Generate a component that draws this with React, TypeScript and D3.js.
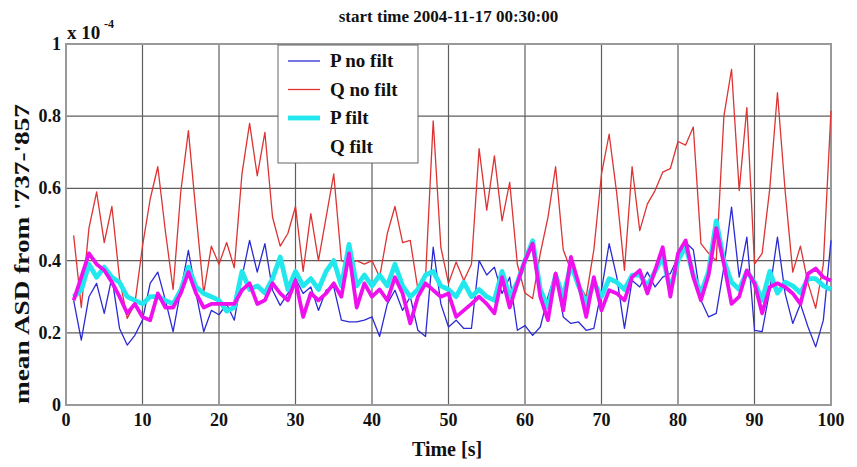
import React from "react";
import * as d3 from "d3";

const title = "start time 2004-11-17 00:30:00";
const xLabel = "Time [s]";
const yLabel = "mean ASD from '737-'857";
const xTicks = [0, 10, 20, 30, 40, 50, 60, 70, 80, 90, 100];
const yTicks = [0, 0.2, 0.4, 0.6, 0.8, 1];
const yTickLabels = ["0", "0.2", "0.4", "0.6", "0.8", "1"];
const seriesNames = ["P no filt", "Q no filt", "P filt", "Q filt"];

const time = d3.range(1, 101);

const pNoFilt = [
  0.29, 0.18, 0.30, 0.337, 0.254, 0.354, 0.212, 0.166, 0.193, 0.235,
  0.337, 0.368, 0.29, 0.203, 0.318, 0.428, 0.309, 0.203, 0.262, 0.25,
  0.28, 0.235, 0.354, 0.456, 0.368, 0.447, 0.318, 0.276, 0.309, 0.35,
  0.309, 0.327, 0.262, 0.318, 0.327, 0.235, 0.23, 0.23, 0.235, 0.244,
  0.19, 0.28, 0.318, 0.262, 0.30, 0.207, 0.19, 0.437, 0.28, 0.216,
  0.235, 0.212, 0.212, 0.40, 0.36, 0.382, 0.309, 0.354, 0.207, 0.22,
  0.193, 0.216, 0.30, 0.368, 0.244, 0.226, 0.23, 0.207, 0.212, 0.318,
  0.447, 0.354, 0.212, 0.345, 0.327, 0.368, 0.327, 0.354, 0.364, 0.41,
  0.45, 0.43, 0.29, 0.244, 0.254, 0.382, 0.548, 0.354, 0.465, 0.207,
  0.203, 0.318, 0.465, 0.309, 0.226, 0.28, 0.216, 0.161, 0.235, 0.456,
];

const qNoFilt = [
  0.47, 0.27, 0.49, 0.59, 0.45, 0.55, 0.35, 0.24, 0.28, 0.44,
  0.57, 0.66, 0.48, 0.32, 0.59, 0.76, 0.53, 0.31, 0.44, 0.39,
  0.45, 0.38, 0.64, 0.78, 0.635, 0.755, 0.52, 0.44, 0.475, 0.55,
  0.37, 0.53, 0.40, 0.52, 0.64, 0.40, 0.39, 0.40, 0.39, 0.40,
  0.354, 0.475, 0.55, 0.45, 0.456, 0.32, 0.354, 0.787, 0.437, 0.337,
  0.396, 0.345, 0.39, 0.71, 0.54, 0.69, 0.51, 0.617, 0.39, 0.31,
  0.295, 0.42, 0.52, 0.66, 0.43, 0.373, 0.337, 0.30, 0.43, 0.64,
  0.75, 0.585, 0.373, 0.66, 0.483, 0.557, 0.594, 0.645, 0.655, 0.73,
  0.72, 0.77, 0.447, 0.42, 0.40, 0.80, 0.93, 0.594, 0.824, 0.39,
  0.42, 0.60, 0.865, 0.594, 0.368, 0.44, 0.337, 0.268, 0.39, 0.815,
];

const pFilt = [
  0.30, 0.318, 0.39, 0.354, 0.382, 0.354, 0.34, 0.30, 0.29, 0.28,
  0.30, 0.30, 0.29, 0.28, 0.318, 0.382, 0.327, 0.309, 0.30, 0.29,
  0.26, 0.27, 0.37, 0.32, 0.33, 0.31, 0.35, 0.41, 0.32, 0.37,
  0.33, 0.35, 0.32, 0.37, 0.40, 0.33, 0.445, 0.33, 0.36, 0.33,
  0.36, 0.33, 0.39, 0.33, 0.30, 0.32, 0.36, 0.37, 0.33, 0.32,
  0.30, 0.34, 0.30, 0.32, 0.30, 0.29, 0.37, 0.30, 0.34, 0.40,
  0.455, 0.32, 0.27, 0.36, 0.30, 0.39, 0.33, 0.28, 0.34, 0.30,
  0.35, 0.34, 0.32, 0.36, 0.36, 0.33, 0.37, 0.41, 0.32, 0.40,
  0.44, 0.36, 0.31, 0.37, 0.51, 0.40, 0.34, 0.32, 0.37, 0.34,
  0.29, 0.37, 0.31, 0.34, 0.33, 0.31, 0.35, 0.35, 0.33, 0.32,
];

const qFilt = [
  0.29, 0.354, 0.42, 0.39, 0.373, 0.34, 0.30, 0.254, 0.28, 0.244,
  0.235, 0.309, 0.27, 0.27, 0.309, 0.368, 0.309, 0.27, 0.28, 0.28,
  0.28, 0.28, 0.318, 0.337, 0.28, 0.29, 0.337, 0.309, 0.29, 0.345,
  0.244, 0.31, 0.29, 0.309, 0.337, 0.30, 0.42, 0.27, 0.337, 0.30,
  0.32, 0.29, 0.354, 0.309, 0.226, 0.30, 0.337, 0.318, 0.30, 0.309,
  0.244, 0.262, 0.28, 0.30, 0.28, 0.254, 0.354, 0.27, 0.337, 0.40,
  0.447, 0.30, 0.235, 0.364, 0.262, 0.41, 0.337, 0.244, 0.354, 0.262,
  0.318, 0.309, 0.29, 0.354, 0.373, 0.309, 0.373, 0.437, 0.30, 0.42,
  0.456, 0.354, 0.29, 0.36, 0.49, 0.39, 0.28, 0.30, 0.373, 0.337,
  0.254, 0.327, 0.337, 0.327, 0.309, 0.28, 0.364, 0.378, 0.354, 0.345,
];

const W = 857;
const H = 467;
const L = 66, R = 831, T = 44, B = 405;
const FONT = "'Liberation Serif', 'Times New Roman', serif";

const series = [
  { name: seriesNames[0], values: pNoFilt, color: "#2b2bd6", width: 1.3, legendLine: true },
  { name: seriesNames[1], values: qNoFilt, color: "#dd3333", width: 1.3, legendLine: true },
  { name: seriesNames[2], values: pFilt, color: "#22e8ee", width: 4.8, legendLine: true },
  { name: seriesNames[3], values: qFilt, color: "#ee11ee", width: 3.8, legendLine: false },
];

export default function App() {
  const x = d3.scaleLinear().domain([0, 100]).range([L, R]);
  const y = d3.scaleLinear().domain([0, 1]).range([B, T]);
  const line = d3
    .line<number>()
    .x((_, i) => x(time[i]))
    .y((d) => y(d));

  return (
    <svg
      width={W}
      height={H}
      style={{ position: "absolute", left: 0, top: 0, background: "#fff" }}
      fontFamily={FONT}
      fontWeight="bold"
    >
      <rect x={0} y={0} width={W} height={H} fill="#fff" />
      <rect x={L} y={T} width={R - L} height={B - T} fill="#fff" />
      {xTicks.map((t) => (
        <line key={"gx" + t} x1={x(t)} x2={x(t)} y1={T} y2={B} stroke="#5e5e5e" strokeWidth={1.2} />
      ))}
      {yTicks.map((t) => (
        <line key={"gy" + t} x1={L} x2={R} y1={y(t)} y2={y(t)} stroke="#5e5e5e" strokeWidth={1.2} />
      ))}
      <rect x={L} y={T} width={R - L} height={B - T} fill="none" stroke="#999" strokeWidth={2} />
      {series.map((s) => (
        <path
          key={s.name}
          d={line(s.values) || ""}
          fill="none"
          stroke={s.color}
          strokeWidth={s.width}
          strokeLinejoin="round"
        />
      ))}
      {xTicks.map((t) => (
        <text key={"tx" + t} x={x(t)} y={426} fontSize={18} textAnchor="middle" fill="#111">
          {t}
        </text>
      ))}
      {yTicks.map((t, i) => (
        <text key={"ty" + t} x={61} y={y(t) + 6} fontSize={18} textAnchor="end" fill="#111">
          {yTickLabels[i]}
        </text>
      ))}
      <text x={67} y={39} fontSize={19} fill="#111">
        x 10
      </text>
      <text x={104} y={28} fontSize={12} fill="#111">
        -4
      </text>
      <text x={(L + R) / 2} y={22} fontSize={17} textAnchor="middle" fill="#111">
        {title}
      </text>
      <text x={447} y={456} fontSize={20} textAnchor="middle" fill="#111">
        {xLabel}
      </text>
      <text
        transform={`translate(29, 254) rotate(-90)`}
        fontSize={21}
        textAnchor="middle"
        textLength={300}
        lengthAdjust="spacingAndGlyphs"
        fill="#111"
      >
        {yLabel}
      </text>
      <g>
        <rect x={278} y={45} width={140} height={118} fill="#fff" stroke="#666" strokeWidth={1} />
        {series.map((s, i) => {
          const ly = 61 + i * 28.5;
          return (
            <g key={"lg" + s.name}>
              {s.legendLine && (
                <line x1={288} x2={320} y1={ly} y2={ly} stroke={s.color} strokeWidth={s.width} />
              )}
              <text x={330} y={ly + 6} fontSize={19} fill="#111">
                {s.name}
              </text>
            </g>
          );
        })}
      </g>
    </svg>
  );
}
